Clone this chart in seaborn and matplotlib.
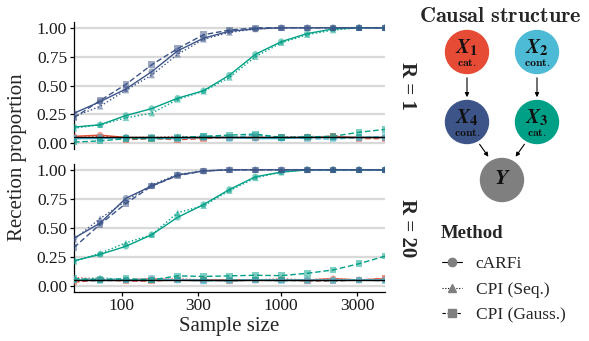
import matplotlib
matplotlib.use("Agg")
import matplotlib.pyplot as plt
import numpy as np
import pandas as pd
import seaborn as sns
from matplotlib.lines import Line2D
from matplotlib.patches import Circle, FancyArrowPatch

# ---- data -------------------------------------------------------------
sample_sizes = [50, 73, 106, 154, 224, 326, 474, 690, 1004, 1461, 2126, 3093, 4500]
features = ["X1", "X2", "X3", "X4"]
methods = ["cARFi", "CPI (Seq.)", "CPI (Gauss.)"]
panels = ["R = 1", "R = 20"]

# R = 1
r1_x1_carfi = [0.06, 0.07, 0.05, 0.05, 0.04, 0.05, 0.05, 0.05, 0.05, 0.05, 0.06, 0.05, 0.05]
r1_x1_seq = [0.05, 0.06, 0.05, 0.05, 0.06, 0.05, 0.05, 0.05, 0.05, 0.06, 0.05, 0.05, 0.05]
r1_x1_gauss = [0.04, 0.05, 0.03, 0.04, 0.03, 0.04, 0.05, 0.05, 0.05, 0.05, 0.06, 0.04, 0.04]
r1_x2_carfi = [0.04, 0.04, 0.05, 0.04, 0.04, 0.05, 0.05, 0.04, 0.04, 0.05, 0.05, 0.05, 0.05]
r1_x2_seq = [0.05, 0.04, 0.05, 0.05, 0.05, 0.05, 0.04, 0.05, 0.05, 0.06, 0.05, 0.05, 0.05]
r1_x2_gauss = [0.04, 0.05, 0.04, 0.05, 0.04, 0.06, 0.05, 0.07, 0.05, 0.04, 0.035, 0.05, 0.06]
r1_x3_carfi = [0.14, 0.16, 0.24, 0.30, 0.39, 0.455, 0.59, 0.77, 0.88, 0.95, 0.99, 1.0, 1.0]
r1_x3_seq = [0.13, 0.16, 0.22, 0.26, 0.38, 0.45, 0.57, 0.75, 0.87, 0.94, 0.98, 1.0, 1.0]
r1_x3_gauss = [0.01, 0.02, 0.04, 0.04, 0.05, 0.06, 0.07, 0.08, 0.05, 0.055, 0.06, 0.095, 0.12]
r1_x4_carfi = [0.26, 0.36, 0.47, 0.62, 0.80, 0.91, 0.97, 0.99, 1.0, 1.0, 1.0, 1.0, 1.0]
r1_x4_seq = [0.23, 0.32, 0.46, 0.59, 0.77, 0.90, 0.96, 0.99, 1.0, 1.0, 1.0, 1.0, 1.0]
r1_x4_gauss = [0.22, 0.37, 0.51, 0.68, 0.82, 0.94, 0.98, 1.0, 1.0, 1.0, 1.0, 1.0, 1.0]

# R = 20
r20_x1_carfi = [0.05, 0.05, 0.05, 0.06, 0.05, 0.05, 0.05, 0.05, 0.05, 0.05, 0.06, 0.05, 0.06]
r20_x1_seq = [0.07, 0.06, 0.05, 0.05, 0.06, 0.05, 0.05, 0.05, 0.06, 0.05, 0.06, 0.05, 0.05]
r20_x1_gauss = [0.03, 0.05, 0.04, 0.04, 0.05, 0.05, 0.04, 0.05, 0.05, 0.04, 0.04, 0.05, 0.06]
r20_x2_carfi = [0.05, 0.05, 0.05, 0.05, 0.05, 0.05, 0.04, 0.05, 0.05, 0.05, 0.05, 0.05, 0.05]
r20_x2_seq = [0.05, 0.07, 0.05, 0.05, 0.05, 0.04, 0.05, 0.05, 0.05, 0.04, 0.05, 0.05, 0.05]
r20_x2_gauss = [0.05, 0.04, 0.05, 0.06, 0.05, 0.04, 0.05, 0.05, 0.04, 0.05, 0.04, 0.05, 0.04]
r20_x3_carfi = [0.215, 0.27, 0.34, 0.44, 0.59, 0.70, 0.83, 0.94, 0.98, 1.0, 1.0, 1.0, 1.0]
r20_x3_seq = [0.21, 0.28, 0.37, 0.44, 0.63, 0.69, 0.82, 0.93, 0.98, 1.0, 1.0, 1.0, 1.0]
r20_x3_gauss = [0.06, 0.055, 0.06, 0.05, 0.085, 0.08, 0.085, 0.09, 0.087, 0.107, 0.136, 0.19, 0.255]
r20_x4_carfi = [0.41, 0.54, 0.755, 0.86, 0.955, 0.99, 1.0, 1.0, 1.0, 1.0, 1.0, 1.0, 1.0]
r20_x4_seq = [0.40, 0.58, 0.73, 0.87, 0.96, 0.99, 1.0, 1.0, 1.0, 1.0, 1.0, 1.0, 1.0]
r20_x4_gauss = [0.33, 0.53, 0.71, 0.86, 0.95, 0.99, 1.0, 1.0, 1.0, 1.0, 1.0, 1.0, 1.0]

alpha_level = 0.05

series = {
    ("R = 1", "X1"): [r1_x1_carfi, r1_x1_seq, r1_x1_gauss],
    ("R = 1", "X2"): [r1_x2_carfi, r1_x2_seq, r1_x2_gauss],
    ("R = 1", "X3"): [r1_x3_carfi, r1_x3_seq, r1_x3_gauss],
    ("R = 1", "X4"): [r1_x4_carfi, r1_x4_seq, r1_x4_gauss],
    ("R = 20", "X1"): [r20_x1_carfi, r20_x1_seq, r20_x1_gauss],
    ("R = 20", "X2"): [r20_x2_carfi, r20_x2_seq, r20_x2_gauss],
    ("R = 20", "X3"): [r20_x3_carfi, r20_x3_seq, r20_x3_gauss],
    ("R = 20", "X4"): [r20_x4_carfi, r20_x4_seq, r20_x4_gauss],
}

rows = []
for (panel, feat), vals in series.items():
    for method, v in zip(methods, vals):
        for n, p in zip(sample_sizes, v):
            rows.append({"panel": panel, "feature": feat, "method": method, "n": n, "rate": p})
df = pd.DataFrame(rows)

# ---- style ------------------------------------------------------------
sns.set_theme(style="white")
plt.rcParams["font.family"] = ["Liberation Serif", "DejaVu Serif"]

palette = {"X1": "#E64B35", "X2": "#4DBBD5", "X3": "#00A087", "X4": "#3C5488"}
dashes = {"cARFi": "", "CPI (Seq.)": (1, 1.6), "CPI (Gauss.)": (4, 2)}
markers = {"cARFi": "o", "CPI (Seq.)": "^", "CPI (Gauss.)": "s"}

W, H = 589, 341
fig = plt.figure(figsize=(W / 100, H / 100), dpi=100)

def px_axes(x0, y0, x1, y1):
    return fig.add_axes([x0 / W, 1 - y1 / H, (x1 - x0) / W, (y1 - y0) / H])

ax_top = px_axes(74, 22, 385, 149)
ax_bot = px_axes(74, 164, 385, 291.5)

for ax, panel in zip([ax_top, ax_bot], panels):
    sub = df[df["panel"] == panel]
    for y in [0, 0.25, 0.5, 0.75, 1.0]:
        ax.axhline(y, color="#d9d9d9", lw=1.6, zorder=0)
    sns.lineplot(data=sub, x="n", y="rate", hue="feature", style="method",
                 palette=palette, dashes=dashes, style_order=methods,
                 lw=1.0, legend=False, ax=ax, zorder=2)
    sns.scatterplot(data=sub, x="n", y="rate", hue="feature", style="method",
                    palette=palette, markers=markers, style_order=methods,
                    s=22, alpha=0.5, linewidth=0, legend=False, ax=ax, zorder=3)
    ax.axhline(alpha_level, color="black", lw=1.0, zorder=4)
    ax.set_xscale("log")
    ax.set_xlim(50, 4500)
    ax.set_ylim(-0.05, 1.05)
    ax.set_yticks([0, 0.25, 0.5, 0.75, 1.0])
    ax.set_yticklabels(["0.00", "0.25", "0.50", "0.75", "1.00"])
    ax.set_xlabel("")
    ax.set_ylabel("")
    for s in ["top", "right"]:
        ax.spines[s].set_visible(False)
    ax.spines["left"].set_color("black")
    ax.spines["left"].set_linewidth(0.9)
    ax.tick_params(axis="y", left=True, length=3, width=0.9, color="black",
                   labelsize=12.5, labelcolor="#1a1a1a", pad=2)
    ax.minorticks_off()
    ax.text(1.07, 0.5, panel, transform=ax.transAxes, rotation=270,
            ha="center", va="center", fontsize=15, fontweight="bold")

ax_top.spines["bottom"].set_visible(False)
ax_top.set_xticks([])
ax_bot.spines["bottom"].set_color("black")
ax_bot.spines["bottom"].set_linewidth(0.9)
ax_bot.set_xticks([100, 300, 1000, 3000])
ax_bot.set_xticklabels(["100", "300", "1000", "3000"])
ax_bot.minorticks_off()
ax_bot.tick_params(axis="x", bottom=True, length=3, width=0.9, color="black",
                   labelsize=12.5, labelcolor="#1a1a1a", pad=2)

fig.text(229.5 / W, 1 - 326 / H, "Sample size", ha="center", va="center", fontsize=15)
fig.text(18 / W, 1 - 157 / H, "Recetion proportion", ha="center", va="center",
         rotation=90, fontsize=15)

# ---- legend -----------------------------------------------------------
handles = [
    Line2D([], [], color="black", lw=0.8, ls="-", marker="o", ms=6,
           mfc="#7f7f7f", mec="#7f7f7f"),
    Line2D([], [], color="black", lw=0.8, ls=(0, (1, 1.5)), marker="^", ms=6,
           mfc="#7f7f7f", mec="#7f7f7f"),
    Line2D([], [], color="black", lw=0.8, ls=(0, (3, 1.5)), marker="s", ms=6,
           mfc="#7f7f7f", mec="#7f7f7f"),
]
fig.text(441 / W, 1 - 233 / H, "Method", ha="left", va="center",
         fontsize=13.5, fontweight="bold")
leg = fig.legend(handles, methods, loc="upper left",
                 bbox_to_anchor=(442 / W, 1 - 256 / H), frameon=False,
                 fontsize=12.5, handlelength=1.15, borderpad=0, borderaxespad=0,
                 labelspacing=0.55, handletextpad=0.8)

# ---- causal diagram ---------------------------------------------------
axd = px_axes(405, 0, 589, 205)
axd.set_xlim(405, 589)
axd.set_ylim(205, 0)
axd.axis("off")

axd.text(500, 17, r"$\mathbf{Causal\ structure}$", math_fontfamily="cm",
         ha="center", va="center", fontsize=16)

nodes = {
    "X1": (467, 52, "#E64B35", "1", "cat."),
    "X2": (537, 52, "#4DBBD5", "2", "cont."),
    "X4": (467, 122, "#3C5488", "4", "cont."),
    "X3": (537, 122, "#00A087", "3", "cat."),
}
r = 21.5
for key, (cx, cy, col, idx, kind) in nodes.items():
    axd.add_patch(Circle((cx, cy), r, color=col, zorder=2))
    axd.text(cx, cy - 4, r"$\mathbfit{X}_{\mathbf{%s}}$" % idx, math_fontfamily="stix",
             ha="center", va="center", fontsize=15, color="#111111", zorder=3)
    axd.text(cx, cy + 11.5, r"$\mathbf{%s}$" % kind, math_fontfamily="cm",
             ha="center", va="center", fontsize=8.5, color="#111111", zorder=3)
axd.add_patch(Circle((502, 180), r, color="#7f7f7f", zorder=2))
axd.text(502, 180, r"$\mathbfit{Y}$", math_fontfamily="stix",
         ha="center", va="center", fontsize=16, color="#111111", zorder=3)

arrows = [((467, 75), (467, 100)), ((537, 75), (537, 100)),
          ((478, 142), (490, 159)), ((526, 142), (514, 159))]
for (p0, p1) in arrows:
    axd.add_patch(FancyArrowPatch(p0, p1, arrowstyle="-|>", mutation_scale=6,
                                  lw=0.8, color="black", zorder=1))

fig.savefig("out.png", dpi=100)
